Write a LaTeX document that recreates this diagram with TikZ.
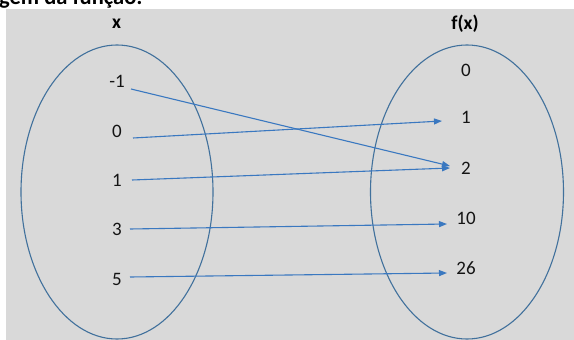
\documentclass[tikz,border=0pt]{standalone}
\usepackage{fontspec}
\setmainfont{Carlito}
\usetikzlibrary{arrows.meta}
\definecolor{panel}{HTML}{D9D9D9}
\definecolor{setline}{HTML}{41719C}
\definecolor{maparrow}{HTML}{3A78C0}
\definecolor{ink}{HTML}{141414}
\tikzset{
  setoval/.style={draw=setline, line width=1.1pt},
  val/.style={text=ink, font=\fontsize{19}{22}\selectfont, inner sep=0pt},
  head/.style={text=black, font=\fontsize{19.5}{23}\selectfont\bfseries, inner sep=0pt},
  maps/.style={draw=maparrow, line width=1.1pt, -{Triangle[length=8pt,width=6pt]}},
}
\begin{document}
\begin{tikzpicture}[x=1pt, y=-1pt]
  \useasboundingbox (0,0) rectangle (574,340);
  \clip (0,0) rectangle (574,340);
  % grey panel behind the two sets
  \fill[panel] (6,9) rectangle (580,350);
  % caption above the panel
  \node[text=black, font=\fontsize{22.5}{27}\selectfont\bfseries, anchor=base west, inner sep=0pt]
    (caption) at (-1,5) {gem da função:};

  % domain and codomain
  \draw[setoval] (117,192) ellipse [x radius=96pt, y radius=147pt];
  \draw[setoval] (467,192) ellipse [x radius=96.5pt, y radius=147pt];
  \node[head] (hx)  at (116.5,24) {x};
  \node[head] (hfx) at (465,24)   {f(x)};

  % domain values
  \node[val] (dm1) at (117,81)  {-1};
  \node[val] (d0)  at (117,131) {0};
  \node[val] (d1)  at (117,180) {1};
  \node[val] (d3)  at (117,229) {3};
  \node[val] (d5)  at (117,279) {5};

  % image values
  \node[val] (r0)  at (466,70)  {0};
  \node[val] (r1)  at (466,117) {1};
  \node[val] (r2)  at (466,168) {2};
  \node[val] (r10) at (466,218) {10};
  \node[val] (r26) at (466,268) {26};

  % arrow end points
  \coordinate (sm1) at (131,89);
  \coordinate (s0)  at (133,138);
  \coordinate (s1)  at (132,180);
  \coordinate (s3)  at (130,229);
  \coordinate (s5)  at (130,277);
  \coordinate (t1)  at (442,121);
  \coordinate (t2a) at (450,166);
  \coordinate (t2b) at (450,168);
  \coordinate (t10) at (447,224);
  \coordinate (t26) at (447,273);

  \draw[maps] (sm1) -- (t2a);
  \draw[maps] (s0)  -- (t1);
  \draw[maps] (s1)  -- (t2b);
  \draw[maps] (s3)  -- (t10);
  \draw[maps] (s5)  -- (t26);
\end{tikzpicture}
\end{document}
